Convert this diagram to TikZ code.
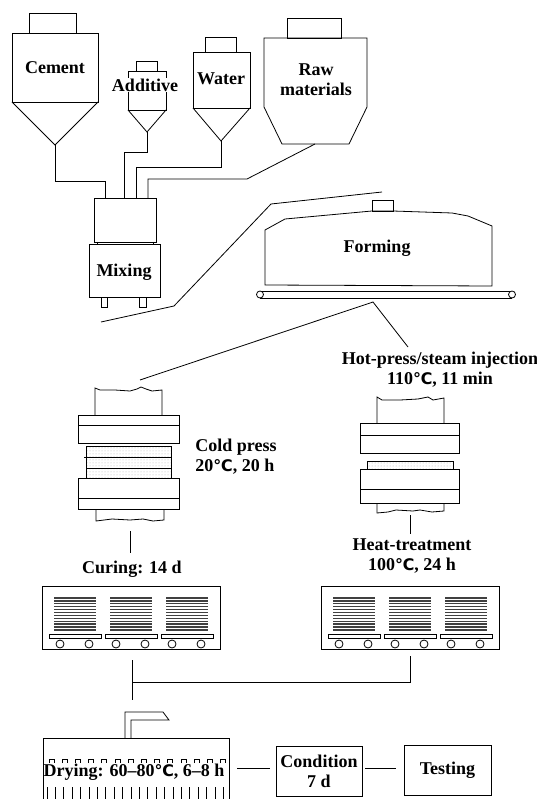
\documentclass[tikz,border=0pt]{standalone}
\usepackage{fontspec}
\setmainfont{Liberation Serif}
\newfontfamily\degfont{DejaVu Sans}
\newcommand\degsign{{\degfont\fontsize{16}{20}\selectfont ℃}}
\usepackage{tikz}
\usetikzlibrary{
        patterns,
        positioning
    }

\begin{document}
\begin{tikzpicture}
[x=1pt, y=-1pt, line width=0.8pt,
label/.style={font=\bfseries\fontsize{18}{20}\selectfont, align=center, inner sep=1pt},
boxlabel/.style={label, draw, line width=0.8pt, minimum height=50pt},
board/.style={pattern=dots, pattern color=black!30},
plate/.style={draw, fill=white},
rack/.style={line width=1.3pt, black!75},
wheel/.style={draw, fill=white}]
    \useasboundingbox (0,0) rectangle (537,799);

    % silos
    \draw (29,33) rectangle (76,13);
    \draw (12,33) rectangle (98,102);
    \draw (12,102) -- (55,145) -- (98,102);
    \node (cement) [label] at (55,68) {Cement};

    \draw (136,61) rectangle (157,71);
    \draw (128,71) rectangle (166,110);
    \draw (128,110) -- (147,132) -- (166,110);
    \node (additive) [label, fill=white] at (145,85) {Additive};

    \draw (205,37) rectangle (236,52);
    \draw (193,52) rectangle (250,108);
    \draw (193,108) -- (221,141) -- (250,108);
    \node (water) [label] at (221,79) {Water};

    \draw (287,18) rectangle (341,38);
    \draw (264,38) -- (264,107) -- (282,144) -- (349,144) -- (367,107) -- (367,38) -- cycle;
    \node (raw) [label] at (316,80) {Raw\\materials};

    % pipes to the mixer
    \draw (55,145) |- (105,181) -- (105,198);
    \draw (147,132) |- (124,152) -- (124,198);
    \draw (221,141) |- (136,167) -- (136,198);
    \draw (315,144) -- (247,179) -- (148,179) -- (148,198);

    % mixer
    \draw (94,198) rectangle (156,242);
    \draw (89,244) rectangle (160,297);
    \draw (97,242) -- (97,244) (153,242) -- (153,244);
    \draw (101,297) rectangle (107,307) (139,297) rectangle (146,307);
    \node (mixing) [label] at (124,272) {Mixing};

    % forming
    \draw (101,322) -- (174,306) -- (271,204) -- (382,192);
    \draw (372,200) rectangle (393,211);
    \draw (265,285) -- (265,230) -- (285,219) -- (372,211) -- (393,211) -- (452,213) -- (468,216) -- (492,226) -- (492,286) -- cycle;
    \node (forming) [label] at (377,248) {Forming};
    \draw (260,291) -- (512,291) (260,298) -- (512,298);
    \draw [wheel] (260,294.5) circle (3.5pt) (512,294.5) circle (3.5pt);
    \draw (140,380) -- (373,302) -- (408,347);
    \node (hot) [label] at (440,370) {Hot-press/steam injection\\110\degsign, 11 min};

    % cold press
    \draw (95,415) -- (95,388) -- (100,390) -- (115,390) -- (130,391) -- (137,389) -- (141,387) -- (146,389) -- (152,391) -- (162,390) -- (162,415);
    \draw [plate] (78,415) rectangle (179,443);
    \draw (78,425) -- (179,425);
    \draw [board] (86,446) rectangle (171,478);
    \draw (86,446) rectangle (171,478);
    \draw [line width=1pt] (84,457) -- (171,457) (86,468) -- (171,468);
    \draw [plate] (78,478) rectangle (179,509);
    \draw (78,498) -- (179,498);
    \draw (96,509) -- (96,521) -- (104,520) -- (112,519) -- (130,520) -- (143,519) -- (153,521) -- (164,520) -- (164,509);
    \node (cold) [label, align=left, anchor=west] at (194,457) {Cold press\\20\degsign, 20 h};
    \draw (130,531) -- (130,553);
    \node (curing) [label] at (132,569) {Curing: 14 d};

    % hot press
    \draw (377,423) -- (377,397) -- (382,400) -- (400,400) -- (418,399) -- (428,397) -- (433,400) -- (444,398) -- (444,423);
    \draw [plate] (360,423) rectangle (459,453);
    \draw (360,435) -- (459,435);
    \draw [board] (367,461) rectangle (453,469);
    \draw (367,461) rectangle (453,469);
    \draw [plate] (360,469) rectangle (459,503);
    \draw (360,489) -- (459,489);
    \draw (377,503) -- (377,513) -- (388,512) -- (396,510) -- (413,511) -- (420,510) -- (432,512) -- (444,511) -- (444,503);
    \draw (410,515) -- (410,534);
    \node (heat) [label] at (412,556) {Heat-treatment\\100\degsign, 24 h};

    % curing and heat-treatment chambers
    \foreach \dx in {0,279} {
        \begin{scope}[xshift=\dx]
            \foreach \s in {0,56,112} {
                \foreach \i in {0,...,11}
                    \draw [rack] (54+\s,598+2.9*\i) -- (96+\s,598+2.9*\i);
                \draw (49+\s,634) rectangle (101+\s,638);
                \draw [wheel] (60+\s,644) circle (4pt) (89+\s,644) circle (4pt);
            }
            \draw (42,586) rectangle (220,649);
        \end{scope}
    }
    \draw (132,660) -- (132,700);
    \draw (132,682) -| (410,656);

    % drying
    \draw (125,738) -- (125,712) -- (163,712) -- (169,720) -- (131,720) -- (131,738);
    \draw (43,799) -- (43,738) -- (229,738) -- (229,799);
    \foreach \i in {0,...,13}
        \draw (49+13.2*\i,763) -- (49+13.2*\i,759) -- (54+13.2*\i,759) -- (54+13.2*\i,763);
    \foreach \i in {0,...,21}
        \draw (47+8.4*\i,787) -- (47+8.4*\i,799);
    \node (drying) [label, inner sep=0pt] at (134,772) {Drying: 60–80\degsign, 6–8 h};
    \coordinate (dryR) at (229,768);

    \node (cond) [boxlabel, minimum width=86pt] at (319,771) {Condition\\7 d};
    \node (test) [boxlabel, minimum width=87pt] at (447.5,770) {Testing};
    \draw [shorten <=8pt, shorten >=6pt] (dryR) -- (cond.west |- dryR);
    \draw [shorten <=3pt, shorten >=8pt] (cond.east |- dryR) -- (test.west |- dryR);
\end{tikzpicture}
\end{document}
